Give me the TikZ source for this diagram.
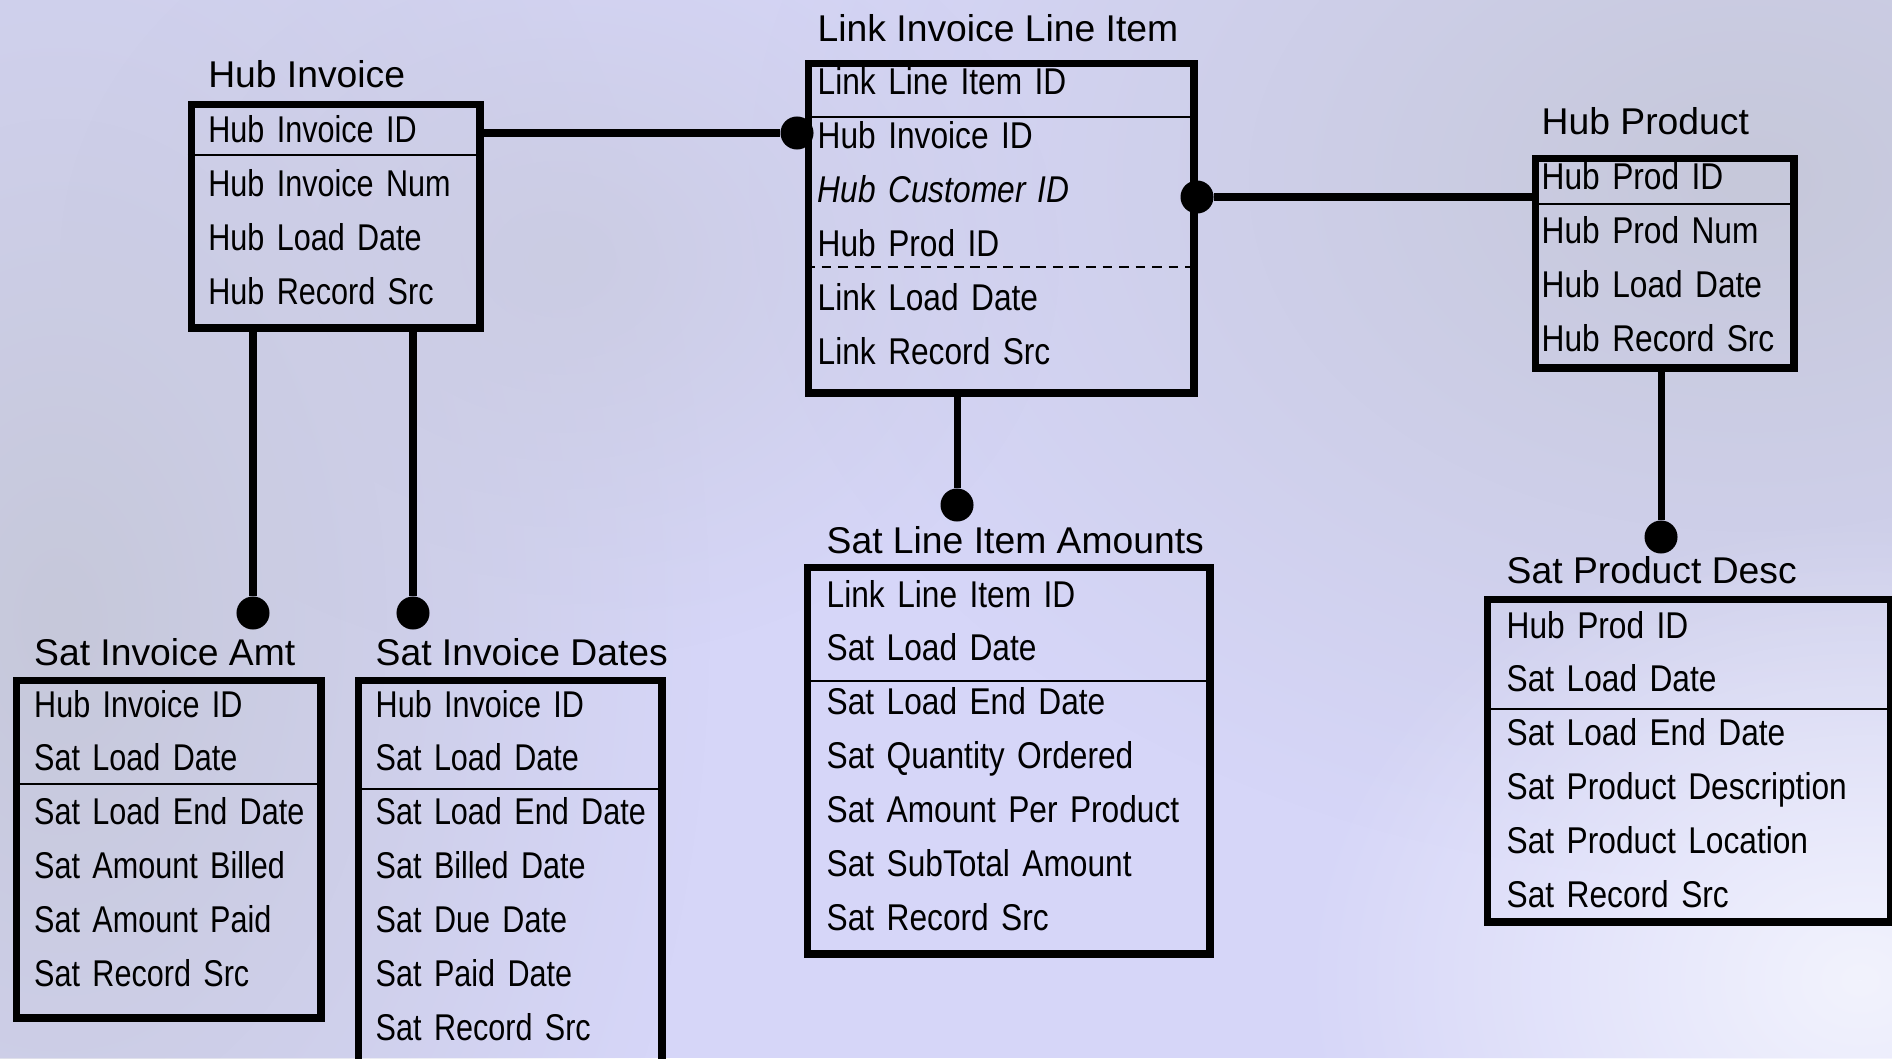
\documentclass[tikz,border=0pt]{standalone}
\usepackage{fontspec}
\setmainfont{Liberation Sans}
\newfontfamily\rowfont{Liberation Sans}[FakeStretch=0.85]
\newfontfamily\lrowfont{Liberation Sans}[FakeStretch=0.82]
\usepackage{tikz}
\usetikzlibrary{positioning, fadings}
\definecolor{bgmid}{RGB}{214,214,248}
\definecolor{bggray}{RGB}{198,200,218}
\definecolor{bglight}{RGB}{242,243,253}
\tikzfading[name=blob, inner color=transparent!0, outer color=transparent!100]

\begin{document}
\begin{tikzpicture}[x=0.01cm, y=-0.01cm,
    tbl/.style={draw=black, line width=2.1pt, inner sep=0pt, anchor=north west},
    ttl/.style={inner sep=0pt, anchor=base west, font=\fontsize{10.6}{12}\selectfont},
    fld/.style={inner sep=0pt, text height=0.404cm, text depth=0.12cm, text width=#1, align=left, font=\fontsize{10.6}{12}\rowfont},
    lfld/.style={fld=#1, font=\fontsize{10.6}{12}\lrowfont},
    sep/.style={draw=black, line width=0.6pt},
    conn/.style={draw=black, line width=2pt},
    dot/.style={circle, fill=black, inner sep=0pt, minimum size=0.33cm}]

    \useasboundingbox (0,0) rectangle (1892,1058);
    \clip (0,0) rectangle (1892,1058);
    % background
    \fill[bgmid] (0,0) rectangle (1892,1058);
    \fill[bggray, path fading=blob] (60,620) ellipse (650 and 1000);
    \fill[bggray, path fading=blob] (1750,180) ellipse (1000 and 700);
    \fill[bggray!70!bgmid, path fading=blob] (560,260) ellipse (500 and 400);
    \fill[bglight, path fading=blob] (1860,980) ellipse (560 and 460);

    % hubs and link
    \node[ttl] (hubinvT) at (207.6,88) {Hub Invoice};
    \node[tbl, minimum width=2.883cm, minimum height=2.233cm] (hubinv) at (187.75,100.75) {};
    \node[lfld=2.6cm, anchor=base west] (hi1) at (207.6,143) {Hub Invoice ID};
    \node[lfld=2.6cm, below=0pt of hi1] (hi2) {Hub Invoice Num};
    \node[lfld=2.6cm, below=0pt of hi2] (hi3) {Hub Load Date};
    \node[lfld=2.6cm, below=0pt of hi3] (hi4) {Hub Record Src};
    \draw[sep] (hubinv.west |- 0,155) -- (hubinv.east |- 0,155);

    \node[ttl] (lnkT) at (817,42) {Link Invoice Line Item};
    \node[tbl, minimum width=3.85cm, minimum height=3.29cm] (lnk) at (805,60) {};
    \node[fld=3.6cm, anchor=base west] (lk1) at (817,95) {Link Line Item ID};
    \node[fld=3.6cm, below=0pt of lk1] (lk2) {Hub Invoice ID};
    \node[fld=3.6cm, below=0pt of lk2] (lk3) {\itshape Hub Customer ID};
    \node[fld=3.6cm, below=0pt of lk3] (lk4) {Hub Prod ID};
    \node[fld=3.6cm, below=0pt of lk4] (lk5) {Link Load Date};
    \node[fld=3.6cm, below=0pt of lk5] (lk6) {Link Record Src};
    \draw[sep] (lnk.west |- 0,117) -- (1197,117);
    \draw[sep, dash pattern=on 2.8pt off 1.9pt] (lnk.west |- 0,267) -- (1197,267);

    \node[ttl] (hubprodT) at (1541,135) {Hub Product};
    \node[tbl, minimum width=2.58cm, minimum height=2.09cm] (hubprod) at (1532,155) {};
    \node[fld=2.4cm, anchor=base west] (hp1) at (1541,190) {Hub Prod ID};
    \node[fld=2.4cm, below=0pt of hp1] (hp2) {Hub Prod Num};
    \node[fld=2.4cm, below=0pt of hp2] (hp3) {Hub Load Date};
    \node[fld=2.4cm, below=0pt of hp3] (hp4) {Hub Record Src};
    \draw[sep] (hubprod.west |- 0,204) -- (hubprod.east |- 0,204);

    % satellites
    \node[ttl] (satamtT) at (33.5,665) {Sat Invoice Amt};
    \node[tbl, minimum width=3.04cm, minimum height=3.37cm] (satamt) at (13,677) {};
    \node[lfld=2.9cm, anchor=base west] (sa1) at (33.5,717) {Hub Invoice ID};
    \node[lfld=2.9cm, below=0pt of sa1] (sa2) {Sat Load Date};
    \node[lfld=2.9cm, below=0pt of sa2] (sa3) {Sat Load End Date};
    \node[lfld=2.9cm, below=0pt of sa3] (sa4) {Sat Amount Billed};
    \node[lfld=2.9cm, below=0pt of sa4] (sa5) {Sat Amount Paid};
    \node[lfld=2.9cm, below=0pt of sa5] (sa6) {Sat Record Src};
    \draw[sep] (satamt.west |- 0,784) -- (satamt.east |- 0,784);

    \node[ttl] (satdatesT) at (375,665) {Sat Invoice Dates};
    \node[tbl, minimum width=3.03cm, minimum height=4.3cm] (satdates) at (355,677) {};
    \node[lfld=2.9cm, anchor=base west] (sd1) at (375,717) {Hub Invoice ID};
    \node[lfld=2.9cm, below=0pt of sd1] (sd2) {Sat Load Date};
    \node[lfld=2.9cm, below=0pt of sd2] (sd3) {Sat Load End Date};
    \node[lfld=2.9cm, below=0pt of sd3] (sd4) {Sat Billed Date};
    \node[lfld=2.9cm, below=0pt of sd4] (sd5) {Sat Due Date};
    \node[lfld=2.9cm, below=0pt of sd5] (sd6) {Sat Paid Date};
    \node[lfld=2.9cm, below=0pt of sd6] (sd7) {Sat Record Src};
    \draw[sep] (satdates.west |- 0,789) -- (satdates.east |- 0,789);

    \node[ttl] (satlineT) at (826,553) {Sat Line Item Amounts};
    \node[tbl, minimum width=4.02cm, minimum height=3.86cm] (satline) at (804,564) {};
    \node[fld=3.7cm, anchor=base west] (sl1) at (826,607) {Link Line Item ID};
    \node[fld=3.7cm, below=0pt of sl1] (sl2) {Sat Load Date};
    \node[fld=3.7cm, below=0pt of sl2] (sl3) {Sat Load End Date};
    \node[fld=3.7cm, below=0pt of sl3] (sl4) {Sat Quantity Ordered};
    \node[fld=3.7cm, below=0pt of sl4] (sl5) {Sat Amount Per Product};
    \node[fld=3.7cm, below=0pt of sl5] (sl6) {Sat SubTotal Amount};
    \node[fld=3.7cm, below=0pt of sl6] (sl7) {Sat Record Src};
    \draw[sep] (satline.west |- 0,681) -- (1213,681);

    \node[ttl] (satprodT) at (1506,583) {Sat Product Desc};
    \node[tbl, minimum width=4.03cm, minimum height=3.22cm] (satprod) at (1484,596) {};
    \node[fld=3.7cm, anchor=base west] (sp1) at (1506,638) {Hub Prod ID};
    \node[fld=3.7cm, below=0pt of sp1] (sp2) {Sat Load Date};
    \node[fld=3.7cm, below=0pt of sp2] (sp3) {Sat Load End Date};
    \node[fld=3.7cm, below=0pt of sp3] (sp4) {Sat Product Description};
    \node[fld=3.7cm, below=0pt of sp4] (sp5) {Sat Product Location};
    \node[fld=3.7cm, below=0pt of sp5] (sp6) {Sat Record Src};
    \draw[sep] (satprod.west |- 0,709) -- (satprod.east |- 0,709);

    % relationships
    \node[dot] (d1) at (797,133) {};
    \node[dot] (d2) at (1197,197) {};
    \node[dot] (d3) at (253,613) {};
    \node[dot] (d4) at (413,613) {};
    \node[dot] (d5) at (957,505) {};
    \node[dot] (d6) at (1661,537) {};

    \draw[conn] (hubinv.east |- d1) -- (d1);
    \draw[conn] (d2) -- (d2 -| hubprod.west);
    \draw[conn] (d3) -- (d3 |- hubinv.south);
    \draw[conn] (d4) -- (d4 |- hubinv.south);
    \draw[conn] (d5) -- (d5 |- lnk.south);
    \draw[conn] (d6) -- (d6 |- hubprod.south);
\end{tikzpicture}
\end{document}
